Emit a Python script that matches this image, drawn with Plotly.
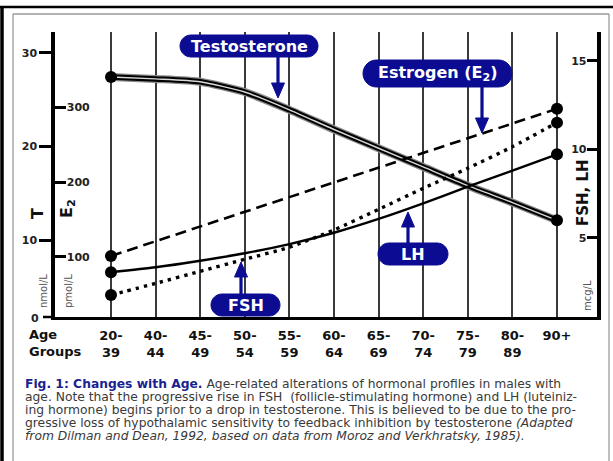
import plotly.graph_objects as go

# ---------------- data ----------------
age_groups = ["20-39", "40-44", "45-49", "50-54", "55-59", "60-64",
              "65-69", "70-74", "75-79", "80-89", "90+"]
tick_text = [g.replace("-", "-<br>") if "-" in g else g + "<br> " for g in age_groups]

testosterone_nmol = [27.4, 27.2, 26.9, 25.8, 23.9, 21.8, 19.8, 17.8, 15.8, 14.0, 12.1]
estrogen_pmol = [101, None, None, None, None, None, None, None, None, None, 298]
fsh_mcg = [1.76, 2.42, 3.10, 3.78, 4.46, 5.44, 6.60, 7.79, 8.92, 10.14, 11.50]
lh_mcg = [3.05, 3.33, 3.70, 4.12, 4.64, 5.28, 6.06, 6.94, 7.88, 8.79, 9.71]

t_ticks = [10, 20, 30]
e2_ticks = [100, 200, 300]
gonad_ticks = [5, 10, 15]

# ---------------- geometry ----------------
W, H = 613, 461
L, R, T, B = 55, 597, 32, 317
NAVY = "#0c0c92"
BOLD = "DejaVu Sans"


def px(x):
    return (x - L) / (R - L)


def py(y):
    return (B - y) / (B - T)


fig = go.Figure()

# estrogen (dashed)
fig.add_trace(go.Scatter(x=age_groups, y=estrogen_pmol, yaxis="y2", mode="lines",
                         connectgaps=True,
                         line=dict(color="black", width=2.6, dash="11px,6px"),
                         showlegend=False, hoverinfo="skip"))
# FSH (dotted)
fig.add_trace(go.Scatter(x=age_groups, y=fsh_mcg, yaxis="y3", mode="lines",
                         line=dict(color="black", width=3.4, dash="3.4px,5px", shape="spline",
                                   smoothing=0.6),
                         showlegend=False, hoverinfo="skip"))
# LH (solid)
fig.add_trace(go.Scatter(x=age_groups, y=lh_mcg, yaxis="y3", mode="lines",
                         line=dict(color="black", width=2.4, shape="spline", smoothing=0.6),
                         showlegend=False, hoverinfo="skip"))
# testosterone (double line)
for col, wd in [("#8a8a8a", 8), ("black", 5.5), ("#d8d8d8", 1.4)]:
    fig.add_trace(go.Scatter(x=age_groups, y=testosterone_nmol, yaxis="y", mode="lines",
                             line=dict(color=col, width=wd, shape="spline", smoothing=0.6),
                             showlegend=False, hoverinfo="skip"))

# end-point dots
ends = [0, len(age_groups) - 1]
e2_pts = [i for i in range(len(age_groups)) if estrogen_pmol[i] is not None]
for vals, ax, idx in [(testosterone_nmol, "y", ends), (estrogen_pmol, "y2", e2_pts),
                      (fsh_mcg, "y3", ends), (lh_mcg, "y3", ends)]:
    fig.add_trace(go.Scatter(x=[age_groups[i] for i in idx], y=[vals[i] for i in idx],
                             yaxis=ax, mode="markers",
                             marker=dict(color="black", size=12),
                             showlegend=False, hoverinfo="skip"))

# ---------------- axes ----------------
x_lo = -(111 - L) / 44.6
x_hi = x_lo + (R - L) / 44.6
tickfont = dict(family=BOLD, size=11, color="#222", weight="bold")
fig.update_layout(
    width=W, height=H,
    margin=dict(l=L, r=W - R, t=T, b=H - B, pad=0),
    paper_bgcolor="white", plot_bgcolor="white",
    showlegend=False,
    xaxis=dict(type="category", range=[x_lo, x_hi], tickvals=age_groups, ticktext=tick_text,
               showgrid=True, gridcolor="#3a3a3a", gridwidth=1.7,
               showline=True, linecolor="black", linewidth=3,
               ticks="", ticklabelstandoff=4,
               tickfont=dict(family=BOLD, size=13, color="#111", weight="bold"),
               zeroline=False, fixedrange=True),
    yaxis=dict(range=[1.78, 32.21], tickvals=t_ticks, ticks="outside", ticklen=12,
               tickwidth=2.5, tickcolor="black", showline=True, linecolor="black",
               linewidth=3.5, showgrid=False, zeroline=False, tickfont=tickfont),
    yaxis2=dict(range=[19.3, 400.8], overlaying="y", side="left", anchor="x",
                tickvals=e2_ticks, ticks="inside", ticklen=11, tickwidth=2.5,
                tickcolor="black", ticklabelposition="inside", showline=False,
                showgrid=False, zeroline=False, tickfont=tickfont),
    yaxis3=dict(range=[0.52, 16.62], overlaying="y", side="right", anchor="x",
                tickvals=gonad_ticks, ticks="inside", ticklen=10, tickwidth=2.5,
                tickcolor="black", ticklabelposition="inside", showline=True,
                linecolor="black", linewidth=3.5, showgrid=False, zeroline=False,
                tickfont=tickfont),
)

shapes = []
ann = []

# frame
shapes.append(dict(type="line", xref="paper", yref="paper", x0=px(2), x1=px(2),
                   y0=py(6), y1=py(470), line=dict(color="black", width=3.5)))
shapes.append(dict(type="line", xref="paper", yref="paper", x0=px(0), x1=px(620),
                   y0=py(7), y1=py(7), line=dict(color="black", width=2.5)))
for xs in (13, 609):
    shapes.append(dict(type="line", xref="paper", yref="paper", x0=px(xs), x1=px(xs),
                       y0=py(14), y1=py(470), line=dict(color="#9a9a9a", width=1.3)))
shapes.append(dict(type="line", xref="paper", yref="paper", x0=px(13), x1=px(609),
                   y0=py(14), y1=py(14), line=dict(color="#9a9a9a", width=1.3)))
# zero tick at bottom-left
shapes.append(dict(type="line", xref="paper", yref="paper", x0=px(43), x1=px(55),
                   y0=py(B), y1=py(B), line=dict(color="black", width=2.5)))
ann.append(dict(x=px(41), y=py(B + 1), xref="paper", yref="paper", text="0",
                showarrow=False, xanchor="right", yanchor="middle",
                font=dict(family=BOLD, size=11, color="#222", weight="bold")))


def path_of(points, close=True):
    s = "M " + " L ".join(f"{px(a):.5f},{py(b):.5f}" for a, b in points)
    return s + (" Z" if close else "")


def pill(x0, y0, x1, y1):
    r = (y1 - y0) / 2
    k = 0.55 * r
    pts = [
        ("M", [(x0 + r, y0)]),
        ("L", [(x1 - r, y0)]),
        ("C", [(x1 - r + k, y0), (x1, y0 + r - k), (x1, y0 + r)]),
        ("C", [(x1, y0 + r + k), (x1 - r + k, y1), (x1 - r, y1)]),
        ("L", [(x0 + r, y1)]),
        ("C", [(x0 + r - k, y1), (x0, y0 + r + k), (x0, y0 + r)]),
        ("C", [(x0, y0 + r - k), (x0 + r - k, y0), (x0 + r, y0)]),
    ]
    s = ""
    for cmd, ps in pts:
        s += cmd + " " + " ".join(f"{px(a):.5f},{py(b):.5f}" for a, b in ps) + " "
    return s + "Z"


callouts = [
    # text, box (x0,y0,x1,y1), arrow x, arrow tail y, arrow tip y
    ("Testosterone", (180, 35, 318, 57), 278, 57, 98),
    ("Estrogen (E<sub>2</sub>)", (363, 60, 512, 87), 482, 87, 133),
    ("LH", (378, 243, 448, 265), 408, 243, 212),
    ("FSH", (211, 294, 280, 316), 241, 294, 262),
]
HEAD_L, HEAD_W = 15, 6.5
for text, (x0, y0, x1, y1), axp, tail, tip in callouts:
    shapes.append(dict(type="path", xref="paper", yref="paper", path=pill(x0, y0, x1, y1),
                       fillcolor=NAVY, line=dict(color=NAVY, width=1)))
    ann.append(dict(x=px((x0 + x1) / 2), y=py((y0 + y1) / 2), xref="paper", yref="paper",
                    text=text, showarrow=False, xanchor="center", yanchor="middle",
                    font=dict(family=BOLD, size=16, color="white", weight="bold")))
    d = 1 if tip > tail else -1
    base = tip - d * HEAD_L
    shapes.append(dict(type="line", xref="paper", yref="paper", x0=px(axp), x1=px(axp),
                       y0=py(tail), y1=py(base + d * 1), line=dict(color=NAVY, width=3.2)))
    shapes.append(dict(type="path", xref="paper", yref="paper",
                       path=path_of([(axp - HEAD_W, base), (axp + HEAD_W, base), (axp, tip)]),
                       fillcolor=NAVY, line=dict(color=NAVY, width=1)))


# axis titles
def rot(x, y, text, size, color="#111", bold=True):
    ann.append(dict(x=px(x), y=py(y), xref="paper", yref="paper", text=text,
                    showarrow=False, textangle=-90, xanchor="center", yanchor="middle",
                    font=dict(family=BOLD, size=size, color=color,
                              weight="bold" if bold else "normal")))


rot(37, 214, "T", 16)
rot(68, 209, "E<sub>2</sub>", 16)
rot(43, 291, "nmol/L", 10, "#555", bold=False)
rot(68, 291, "pmol/L", 10, "#555", bold=False)
rot(583, 193, "FSH, LH", 15)
rot(587, 296, "mcg/L", 10, "#555", bold=False)

ann.append(dict(x=px(27), y=py(343), xref="paper", yref="paper", text="Age<br>Groups",
                showarrow=False, xanchor="left", yanchor="middle", align="left",
                font=dict(family=BOLD, size=13, color="#111", weight="bold")))

# caption
cap_lines = [
    "<b><span style='color:#1b1f8f'>Fig. 1: Changes with Age.</span></b> Age-related alterations of hormonal profiles in males with",
    "age. Note that the progressive rise in FSH  (follicle-stimulating hormone) and LH (luteiniz-",
    "ing hormone) begins prior to a drop in testosterone. This is believed to be due to the pro-",
    "gressive loss of hypothalamic sensitivity to feedback inhibition by testosterone <i>(Adapted</i>",
    "<i>from Dilman and Dean, 1992, based on data from Moroz and Verkhratsky, 1985).</i>",
]
cap_y = [384, 397, 410, 423, 436]
for line, yy in zip(cap_lines, cap_y):
    ann.append(dict(x=px(23), y=py(yy), xref="paper", yref="paper", text=line,
                    showarrow=False, xanchor="left", yanchor="middle", align="left",
                    font=dict(family="DejaVu Sans", size=12.3, color="#3a3a3a")))

fig.update_layout(shapes=shapes, annotations=ann)

fig.write_html("out.html", config={"displayModeBar": False},
               post_script="document.body.style.margin='0px';document.body.style.overflow='hidden';")
